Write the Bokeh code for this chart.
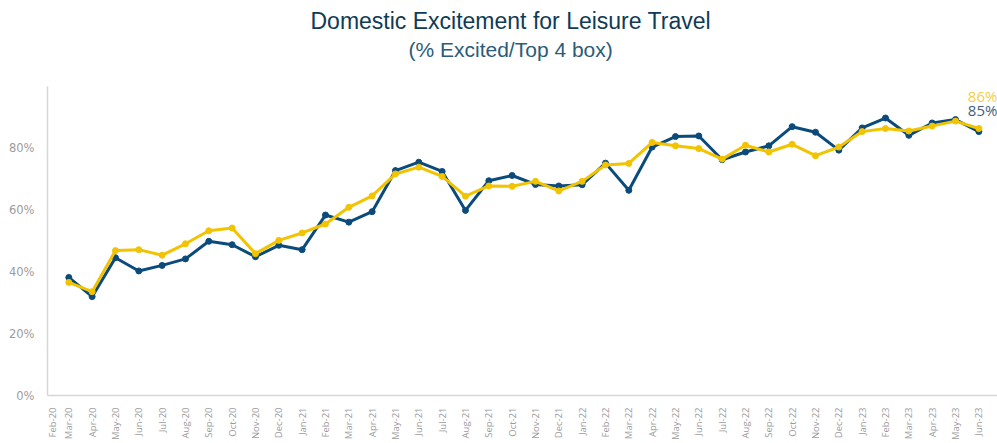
from bokeh.plotting import figure
from bokeh.models import Range1d, FixedTicker, Title, ColumnDataSource
from bokeh.core.properties import value
from bokeh.embed import file_html
from bokeh.resources import INLINE

# ---------------- data ----------------
months = ["Feb-20", "Mar-20", "Apr-20", "May-20", "Jun-20", "Jul-20", "Aug-20", "Sep-20",
          "Oct-20", "Nov-20", "Dec-20", "Jan-21", "Feb-21", "Mar-21", "Apr-21", "May-21",
          "Jun-21", "Jul-21", "Aug-21", "Sep-21", "Oct-21", "Nov-21", "Dec-21", "Jan-22",
          "Feb-22", "Mar-22", "Apr-22", "May-22", "Jun-22", "Jul-22", "Aug-22", "Sep-22",
          "Oct-22", "Nov-22", "Dec-22", "Jan-23", "Feb-23", "Mar-23", "Apr-23", "May-23",
          "Jun-23"]
data_months = months[1:]  # series start in Mar-20

blue_series = [38.2, 32.0, 44.6, 40.3, 42.1, 44.2, 49.9, 48.8, 44.9, 48.6,
               47.2, 58.4, 56.1, 59.5, 72.8, 75.5, 72.5, 59.9, 69.5, 71.2, 68.3, 67.8,
               68.2, 75.2, 66.4, 80.4, 83.8, 84.0, 76.3, 78.8, 80.8, 87.0, 85.2, 79.4,
               86.6, 89.8, 84.2, 88.2, 89.3, 85.4]
yellow_series = [36.6, 33.6, 46.9, 47.2, 45.4, 49.1, 53.3, 54.2, 45.9, 50.2,
                 52.6, 55.5, 60.9, 64.6, 71.7, 73.9, 70.9, 64.5, 67.8, 67.7, 69.3, 66.2,
                 69.3, 74.6, 75.1, 81.9, 80.8, 79.9, 76.5, 81.0, 78.8, 81.3, 77.6, 80.4,
                 85.4, 86.4, 85.6, 87.2, 88.8, 86.4]
y_ticks = [0, 20, 40, 60, 80]

# ---------------- styling ----------------
BLUE = "#0b4b7c"
YELLOW = "#f2c300"
GREY_TXT = "#9c9c9c"
AXIS_COL = "#d6d6d6"

x_idx = list(range(1, len(data_months) + 1))
tick_pos = [0.3] + x_idx
tick_labels = dict(zip(tick_pos, months))

p = figure(width=997, height=443, output_backend="svg", toolbar_location=None,
           x_range=Range1d(0.087, 40.8), y_range=Range1d(0, 100),
           min_border_left=47, min_border_right=0, min_border_top=86,
           min_border_bottom=44)
p.outline_line_color = None
p.background_fill_color = "white"
p.border_fill_color = "white"
p.xgrid.grid_line_color = None
p.ygrid.grid_line_color = None

# titles: p.title is outermost; added items stack outward from the frame
p.title.text = "Domestic Excitement for Leisure Travel"
p.title.text_font = "Liberation Sans"
p.title.text_font_size = "23px"
p.title.text_font_style = "normal"
p.title.text_color = "#0f3b57"
p.title.align = "left"
p.title.offset = 263
p.title.standoff = 0
# empty spacer between subtitle and plot area
p.add_layout(Title(text=" ", text_font_size="2px", standoff=20), "above")
p.add_layout(Title(text="(% Excited/Top 4 box)", align="left", offset=361,
                   text_font="Liberation Sans", text_font_size="21px",
                   text_font_style="normal", text_color="#2c5b78", standoff=4),
             "above")

# axes
p.xaxis.ticker = FixedTicker(ticks=tick_pos)
p.xaxis.major_label_overrides = tick_labels
p.xaxis.major_label_orientation = 1.5708
p.xaxis.major_label_text_font = "Open Sans"
p.xaxis.major_label_text_font_size = "9.5px"
p.xaxis.major_label_text_color = GREY_TXT
p.xaxis.major_label_standoff = 6
p.yaxis.ticker = FixedTicker(ticks=y_ticks)
p.yaxis.major_label_overrides = {t: f"{t}%" for t in y_ticks}
p.yaxis.major_label_text_font = "DejaVu Sans"
p.yaxis.major_label_text_font_size = "11.5px"
p.yaxis.major_label_text_color = GREY_TXT
p.yaxis.major_label_standoff = 7
for ax in (p.xaxis, p.yaxis):
    ax.axis_line_color = AXIS_COL
    ax.axis_line_width = 1.5
    ax.major_tick_line_color = None
    ax.minor_tick_line_color = None

src = ColumnDataSource(dict(x=x_idx, blue=blue_series, yellow=yellow_series))

p.line("x", "blue", source=src, line_color=BLUE, line_width=3, line_join="round")
p.scatter("x", "blue", source=src, size=6, color=BLUE)
p.line("x", "yellow", source=src, line_color=YELLOW, line_width=3, line_join="round")
p.scatter("x", "yellow", source=src, size=6, color=YELLOW)

# end labels
p.text(x=[x_idx[-1]], y=[yellow_series[-1]], text=[f"{round(yellow_series[-1])}%"],
       text_font=value("Open Sans"), text_font_size="15px", text_color="#f5cd4a",
       text_align="left", text_baseline="middle", x_offset=-11, y_offset=-33)
p.text(x=[x_idx[-1]], y=[blue_series[-1]], text=[f"{round(blue_series[-1])}%"],
       text_font=value("Open Sans"), text_font_size="15px", text_color="#3b6283",
       text_align="left", text_baseline="middle", x_offset=-11, y_offset=-22)

open("out.html", "w").write(file_html(p, INLINE))
